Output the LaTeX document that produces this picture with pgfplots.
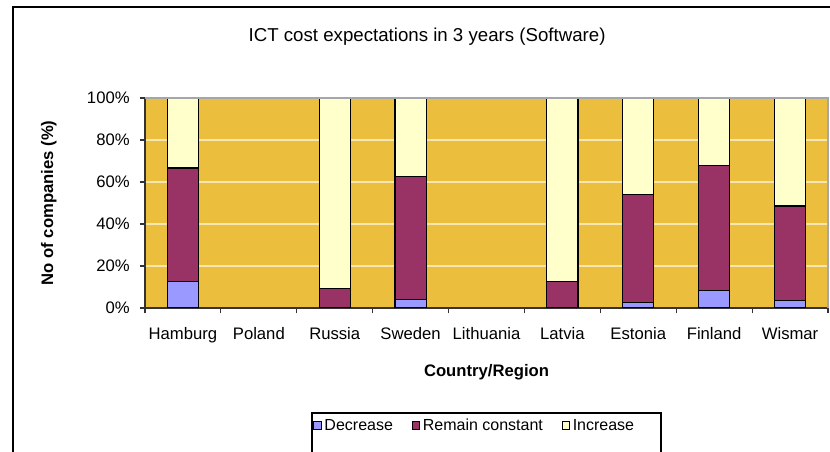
\documentclass[border=0pt]{standalone}
\usepackage{pgfplots}
\pgfplotsset{compat=1.18}
\usepackage{fontspec}
\setmainfont{Liberation Sans}
\definecolor{bgcol}{HTML}{EBBE3E}
\definecolor{gridcol}{HTML}{F7E6B0}
\definecolor{cdec}{HTML}{9999FF}
\definecolor{crem}{HTML}{993366}
\definecolor{cinc}{HTML}{FFFFCC}
\begin{document}
\begin{tikzpicture}
\path[use as bounding box] (0,0) rectangle (622.5pt,339pt);
\draw[line width=1.6pt] (9.75pt,-5pt) -- (9.75pt,333.5pt) -- (630pt,333.5pt);
\begin{axis}[
  at={(108.75pt,108pt)}, anchor=south west,
  scale only axis, width=512.25pt, height=157.5pt,
  xmin=-0.5, xmax=8.5, ymin=0, ymax=100,
  ybar stacked, bar width=0.41,
  axis background/.style={fill=bgcol},
  axis x line*=bottom, axis y line*=left,
  axis line style={draw=black!80, line width=0.9pt},
  extra description/.code={\draw[gray!70, line width=0.9pt] (rel axis cs:0,1) -- (rel axis cs:1,1) -- (rel axis cs:1,0);},
  tick align=outside,
  xtick={0,...,8},
  xticklabels={Hamburg,Poland,Russia,Sweden,Lithuania,Latvia,Estonia,Finland,Wismar},
  major x tick style={draw=none},
  minor xtick={-0.5,0.5,...,8.5},
  minor tick length=4pt,
  major tick length=4pt,
  tick style={black!80, line width=0.8pt},
  ytick={0,20,40,60,80,100},
  yticklabels={0\%,20\%,40\%,60\%,80\%,100\%},
  ymajorgrids, grid style={gridcol, line width=1.2pt},
  ticklabel style={font=\fontsize{12.5}{15}\selectfont},
  xticklabel style={yshift=-7pt},
  yticklabel style={xshift=-4pt},
  title={ICT cost expectations in 3 years (Software)},
  title style={at={(axis description cs:0.413,1.252)}, anchor=center, font=\fontsize{14}{17}\selectfont},
  xlabel={Country/Region},
  xlabel style={at={(axis description cs:0.5,-0.305)}, anchor=center, font=\bfseries\fontsize{12.5}{15}\selectfont},
  ylabel={No of companies (\%)},
  ylabel style={at={(axis description cs:-0.141,0.5)}, anchor=center, font=\bfseries\fontsize{12.5}{15}\selectfont},
  legend columns=3,
  legend style={draw=none, fill=none, inner sep=0pt, at={(axis description cs:0.246,-0.56)}, anchor=west, font=\fontsize{12}{14}\selectfont, /tikz/every even column/.append style={column sep=12pt}},
  legend image code/.code={\draw[#1, draw=black, line width=0.8pt] (0pt,-2.8pt) rectangle (5.6pt,2.8pt);},
  every axis plot/.append style={draw=black, line width=0.9pt},
]
\addplot[fill=cdec] coordinates {(0,12.5) (2,0) (3,4.2) (5,0) (6,2.7) (7,8.3) (8,3.5)};
\addplot[fill=crem] coordinates {(0,54.2) (2,9.1) (3,58.3) (5,12.5) (6,51.4) (7,59.6) (8,45.1)};
\addplot[fill=cinc] coordinates {(0,33.3) (2,90.9) (3,37.5) (5,87.5) (6,45.9) (7,32.1) (8,51.4)};
\legend{Decrease,Remain constant,Increase}
\end{axis}
\draw[line width=1pt] (234pt,-10pt) -- (234pt,29.25pt) -- (495.75pt,29.25pt) -- (495.75pt,-10pt);
\end{tikzpicture}
\end{document}
